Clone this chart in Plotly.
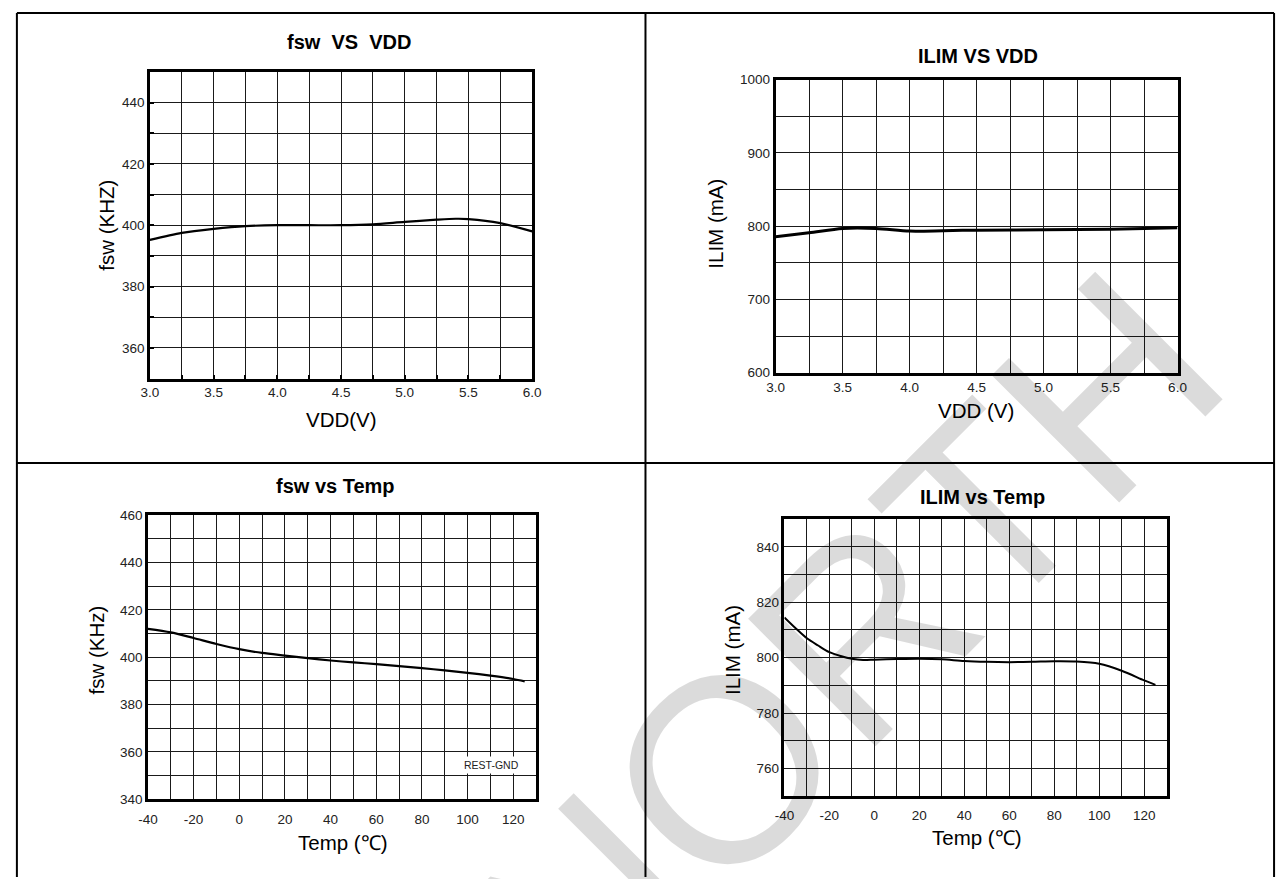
import plotly.graph_objects as go

W, H = 1287, 879

# ---------------- data ----------------
vdd_fsw = [3.0, 3.25, 3.5, 3.75, 4.0, 4.25, 4.5, 4.75, 5.0, 5.25, 5.4, 5.5, 5.75, 6.0]
fsw_vdd = [395.2, 397.5, 398.8, 399.7, 400.0, 400.0, 400.0, 400.3, 401.1, 401.8, 402.1, 402.0, 400.7, 398.0]

vdd_ilim = [3.0, 3.25, 3.5, 3.75, 4.0, 4.25, 4.5, 5.0, 5.5, 6.0]
ilim_vdd = [785.7, 791.0, 797.0, 797.0, 793.3, 793.8, 794.6, 795.0, 796.0, 797.8]

temp_fsw = [-40, -30, -20, -10, 0, 10, 20, 30, 40, 50, 60, 70, 80, 90, 100, 110, 120, 125]
fsw_temp = [412.0, 410.5, 408.1, 405.6, 403.4, 401.8, 400.7, 399.6, 398.6, 397.8, 397.1,
            396.2, 395.4, 394.4, 393.4, 392.2, 390.8, 389.8]

temp_ilim = [-40, -35, -30, -25, -20, -15, -10, -5, 0, 10, 20, 30, 40, 50, 60, 70, 80, 90,
             100, 110, 120, 125]
ilim_temp = [814.5, 810.6, 807.0, 804.4, 802.0, 800.6, 799.6, 799.2, 799.3, 799.5, 799.6,
             799.4, 798.8, 798.5, 798.4, 798.5, 798.7, 798.6, 797.8, 795.3, 791.8, 790.2]

titles = ["fsw\u00a0 VS\u00a0 VDD", "ILIM VS VDD", "fsw vs Temp", "ILIM vs Temp"]
xtitles = ["VDD(V)", "VDD (V)", "Temp (℃)", "Temp (℃)"]
ytitles = ["fsw (KHZ)", "ILIM (mA)", "fsw (KHz)", "ILIM (mA)"]

vdd_labels = ["3.0", "3.5", "4.0", "4.5", "5.0", "5.5", "6.0"]
temp_labels = ["-40", "-20", "0", "20", "40", "60", "80", "100", "120"]

# ---------------- layout geometry (pixels) ----------------
boxes = [(142, 530, 66, 378), (777, 1185, 74, 372), (140, 534, 517, 806), (786, 1174, 521, 803)]
title_pos = [(344, 36), (983, 50), (330, 487), (987, 498)]
xt_pos = [(336, 420), (980, 410), (337, 850), (981, 845)]
yt_pos = [(98, 222), (716, 220), (88, 654), (734, 654)]
xlabel_standoff = [None, None, 6, 5]

FONT = "Liberation Sans, Arial, sans-serif"

def px(x):
    return x / W

def py(y):
    return 1 - y / H

def frange(a, b, s):
    n = int(round((b - a) / s))
    return [round(a + i * s, 6) for i in range(n + 1)]

fig = go.Figure()

series = [(vdd_fsw, fsw_vdd, 2.2), (vdd_ilim, ilim_vdd, 3.0), (temp_fsw, fsw_temp, 2.2), (temp_ilim, ilim_temp, 2.0)]
for i, (xs, ys, lw) in enumerate(series):
    fig.add_trace(go.Scatter(x=xs, y=ys, mode="lines",
                             line=dict(color="black", width=lw, shape="spline", smoothing=0.8),
                             xaxis="x" if i == 0 else f"x{i+1}",
                             yaxis="y" if i == 0 else f"y{i+1}",
                             showlegend=False, hoverinfo="skip"))

specs = [
    ((3.0, 6.0), 0.25, vdd_labels, (350, 450), 10, 20, 360),
    ((3.0, 6.0), 0.25, vdd_labels, (600, 1000), 50, 100, 600),
    ((-40, 130), 10, temp_labels, (340, 460), 10, 20, 340),
    ((-40, 130), 10, temp_labels, (750, 850), 10, 20, 760),
]

layout = {}
for i, (xr, xs, xl, yr, ys, ylstep, ylstart) in enumerate(specs):
    l, r, t, b = boxes[i]
    xv = frange(xr[0], xr[1], xs)
    label_map = {float(v): v for v in xl}
    xt = [label_map.get(v, "") for v in xv]
    yv = frange(yr[0], yr[1], ys)
    yt = []
    for v in yv:
        k = (v - ylstart) / ylstep
        if v >= ylstart and abs(k - round(k)) < 1e-6:
            yt.append(str(int(v)))
        else:
            yt.append("")
    inside = (i == 0)
    xa = dict(domain=[px(l), px(r)], range=list(xr), tickvals=xv, ticktext=xt,
              showgrid=True, gridcolor="#1a1a1a", gridwidth=1.4,
              showline=True, linecolor="black", linewidth=2.5, mirror=True,
              zeroline=False, ticks="inside" if inside else "", ticklen=4, tickwidth=2,
              tickcolor="black",
              tickfont=dict(family=FONT, size=13.5, color="#222"),
              anchor="y" if i == 0 else f"y{i+1}", fixedrange=True)
    if xlabel_standoff[i] is not None:
        xa["ticklabelstandoff"] = xlabel_standoff[i]
    ya = dict(domain=[py(b), py(t)], range=list(yr), tickvals=yv, ticktext=yt,
              showgrid=True, gridcolor="#1a1a1a", gridwidth=1.4,
              showline=True, linecolor="black", linewidth=2.5, mirror=True,
              zeroline=False, ticks="inside" if inside else "", ticklen=4, tickwidth=2,
              tickcolor="black",
              tickfont=dict(family=FONT, size=13.5, color="#222"),
              anchor="x" if i == 0 else f"x{i+1}", fixedrange=True)
    layout["xaxis" if i == 0 else f"xaxis{i+1}"] = xa
    layout["yaxis" if i == 0 else f"yaxis{i+1}"] = ya

annotations = []
for i in range(4):
    tx, ty = title_pos[i]
    annotations.append(dict(x=px(tx), y=py(ty), xref="paper", yref="paper", text=f"<b>{titles[i]}</b>",
                            showarrow=False, font=dict(family=FONT, size=20, color="black"),
                            xanchor="center", yanchor="middle"))
    ax_, ay_ = xt_pos[i]
    annotations.append(dict(x=px(ax_), y=py(ay_), xref="paper", yref="paper", text=xtitles[i],
                            showarrow=False, font=dict(family=FONT, size=20.5, color="black"),
                            xanchor="center", yanchor="middle"))
    bx, by = yt_pos[i]
    annotations.append(dict(x=px(bx), y=py(by), xref="paper", yref="paper", text=ytitles[i],
                            showarrow=False, textangle=-90, font=dict(family=FONT, size=20.5, color="black"),
                            xanchor="center", yanchor="middle"))

annotations.append(dict(x=110.5, y=354.5, xref="x3", yref="y3", text="REST-GND", showarrow=False,
                        font=dict(family=FONT, size=10.5, color="#222"), bgcolor="white", borderpad=2))

# watermark
annotations.append(dict(x=px(849), y=py(652), xref="paper", yref="paper", text="NORTH",
                        showarrow=False, textangle=-45,
                        font=dict(family=FONT, size=262, color="rgba(0,0,0,0.14)"),
                        xanchor="center", yanchor="middle"))

shapes = [
    dict(type="line", xref="paper", yref="paper", x0=px(7), x1=px(1283), y0=py(6), y1=py(6),
         line=dict(color="black", width=2)),
    dict(type="line", xref="paper", yref="paper", x0=px(7), x1=px(7), y0=py(6), y1=py(885),
         line=dict(color="black", width=2)),
    dict(type="line", xref="paper", yref="paper", x0=px(1283), x1=px(1283), y0=py(6), y1=py(885),
         line=dict(color="black", width=2)),
    dict(type="line", xref="paper", yref="paper", x0=px(645), x1=px(645), y0=py(6), y1=py(885),
         line=dict(color="black", width=2)),
    dict(type="line", xref="paper", yref="paper", x0=px(7), x1=px(1283), y0=py(464), y1=py(464),
         line=dict(color="black", width=2)),
]

fig.update_layout(width=W, height=H, margin=dict(l=0, r=0, t=0, b=0),
                  paper_bgcolor="white", plot_bgcolor="white",
                  annotations=annotations, shapes=shapes, showlegend=False, **layout)

fig.write_html("out.html")
